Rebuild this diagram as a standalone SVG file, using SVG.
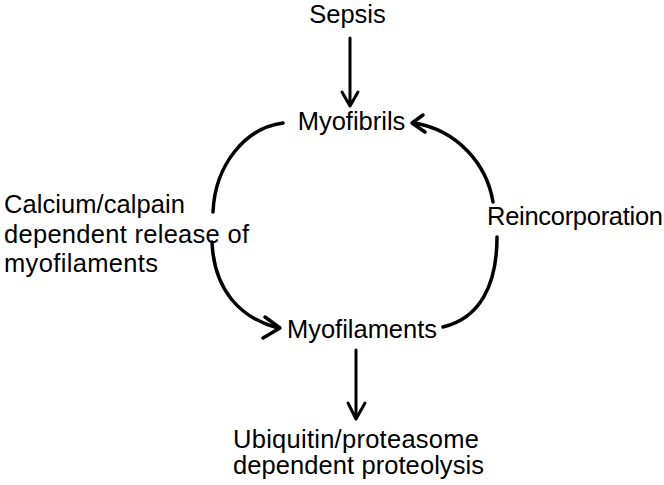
<svg xmlns="http://www.w3.org/2000/svg" width="664" height="485" viewBox="0 0 664 485">
<style>
text{font-family:"Liberation Sans",Arial,sans-serif;font-size:25.5px;fill:#000}
.c{fill:none;stroke:#000;stroke-width:3.5;stroke-linecap:round;stroke-linejoin:round}
.a{fill:none;stroke:#000;stroke-width:3;stroke-linecap:round;stroke-linejoin:round}
</style>
<rect width="664" height="485" fill="#fff"/>
<g id="sepsis"><text x="347.5" y="23" text-anchor="middle">Sepsis</text></g>
<g id="myofibrils"><text x="351.5" y="130" text-anchor="middle">Myofibrils</text></g>
<g id="myofilaments"><text x="362" y="338" text-anchor="middle" textLength="150" lengthAdjust="spacing">Myofilaments</text></g>
<g id="proteolysis"><text x="233" y="448" textLength="246" lengthAdjust="spacing">Ubiquitin/proteasome</text><text x="233" y="474" textLength="251" lengthAdjust="spacing">dependent proteolysis</text></g>
<g id="calpain"><text x="4" y="213" textLength="181" lengthAdjust="spacing">Calcium/calpain</text><text x="4" y="243" textLength="245" lengthAdjust="spacing">dependent release of</text><text x="4" y="272" textLength="154" lengthAdjust="spacing">myofilaments</text></g>
<g id="reincorporation"><text x="487" y="225" textLength="176" lengthAdjust="spacing">Reincorporation</text></g>
<g id="connectors">
<path class="a" d="M350,38 V106 M342,92 L350,106 L358,92"/>
<path class="a" d="M356,350 V419 M348,403 L356,419 L365,403"/>
<path class="c" d="M283,123 C245,128 215,165 213,212"/>
<path class="c" d="M212,242 C214,290 240,318 278,328"/>
<path class="c" d="M265,317 L280,328 L263,338"/>
<path class="c" d="M443,327 C480,318 497,285 497,237"/>
<path class="c" d="M493,202 C487,165 458,130 414,123"/>
<path class="c" d="M423,115 L412,123 L425,132"/>
</g>
</svg>
